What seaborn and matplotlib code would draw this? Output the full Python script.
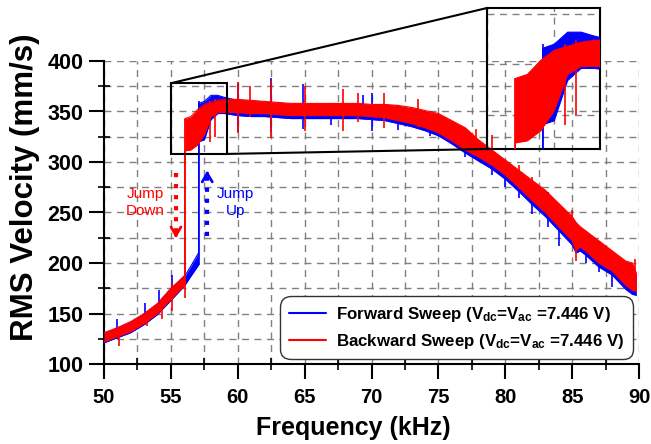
import matplotlib
matplotlib.use('Agg')
import matplotlib.pyplot as plt
import seaborn as sns
import pandas as pd
from matplotlib.patches import Rectangle, ConnectionPatch
from matplotlib.lines import Line2D
from matplotlib.ticker import MultipleLocator

# ---------------- data ----------------
# Backward sweep (red): envelope of the noisy band
red_f = [50, 51, 52, 53, 54, 55, 55.5, 56.05, 56.05, 56.5, 57, 57.5, 58, 58.5, 59,
         60, 61, 62, 63, 64, 65, 66, 67, 68, 69, 70, 71, 72, 73, 74, 75, 76, 77, 78, 79,
         80, 81, 82, 83, 84, 85, 85.3, 85.6, 86, 87, 88, 89, 89.5, 89.8]
red_lo = [122, 127, 132, 140, 150, 164, 171, 178, 311, 312, 317, 327, 345, 349, 349,
          349, 348, 348, 347, 346, 346, 346, 346, 346, 346, 345, 344, 341, 338, 334, 329, 321, 312, 305, 297,
          287, 275, 262, 250, 236, 222, 212, 216, 212, 200, 192, 178, 173, 172]
red_hi = [131, 136, 142, 150, 160, 175, 181, 188, 343, 345, 352, 357, 359, 361, 362,
          362, 361, 360, 359, 358, 358, 358, 358, 358, 358, 357, 357, 356, 354, 351, 348, 341, 334, 322, 312,
          302, 292, 282, 272, 259, 246, 240, 236, 232, 222, 212, 202, 200, 190]
# Forward sweep (blue)
blue_f = [50, 51, 52, 53, 54, 55, 55.5, 56, 56.5, 57.07, 57.07, 57.5, 58, 58.5, 59,
          60, 61, 62, 63, 64, 65, 66, 67, 68, 69, 70, 71, 72, 73, 74, 75, 76, 77, 78, 79,
          80, 81, 82, 83, 84, 85, 85.3, 85.6, 86, 87, 88, 89, 89.5, 89.8]
blue_lo = [121, 126, 131, 139, 149, 163, 170, 177, 187, 198, 320, 322, 342, 348, 348,
           346, 345, 345, 344, 343, 343, 343, 343, 343, 343, 342, 341, 338, 335, 331, 326, 318, 309, 301, 293,
           283, 271, 258, 246, 232, 218, 210, 212, 208, 196, 188, 174, 169, 168]
blue_hi = [130, 135, 141, 149, 159, 174, 180, 186, 197, 210, 358, 360, 366, 366, 364,
           361, 360, 359, 358, 357, 357, 357, 357, 357, 357, 356, 356, 355, 352, 349, 346, 339, 332, 320, 310,
           300, 290, 280, 270, 257, 244, 238, 234, 230, 220, 210, 200, 198, 188]

# Spikes (vertical excursions)
red_spk_f = [51.1, 53.2, 54.3, 55.1, 56.05, 57.9, 58.3, 60.0, 60.9, 62.5, 65.0, 67.9, 69.0,
             70.9, 73.5, 77.8, 79.0, 81.0, 82.0, 83.0, 85.0, 85.3, 88.0, 89.7]
red_spk_lo = [118, 138, 145, 152, 165, 320, 325, 329, 345, 324, 331, 331, 340,
              334, 335, 310, 300, 280, 265, 250, 225, 202, 195, 175]
red_spk_hi = [135, 152, 162, 180, 343, 360, 362, 379, 375, 380, 375, 372, 368,
              368, 362, 333, 327, 297, 285, 272, 252, 240, 212, 204]
blue_spk_f = [51.0, 53.1, 54.1, 55.1, 57.07, 60.0, 62.5, 64.9, 67.0, 69.4, 70.0, 72.0,
              74.4, 76.0, 77.0, 79.0, 80.0, 81.0, 82.0, 83.2, 84.0, 86.0, 87.0, 88.0]
blue_spk_lo = [125, 140, 152, 168, 198, 330, 330, 333, 337, 345, 331, 332,
               326, 319, 305, 287, 275, 264, 249, 236, 217, 200, 191, 176]
blue_spk_hi = [145, 160, 173, 188, 360, 378, 383, 377, 358, 366, 368, 356,
               350, 341, 334, 310, 302, 290, 282, 270, 258, 232, 222, 212]

labels = ["Forward Sweep (V$_{\\mathrm{dc}}$=V$_{\\mathrm{ac}}$ =7.446 V)",
          "Backward Sweep (V$_{\\mathrm{dc}}$=V$_{\\mathrm{ac}}$ =7.446 V)"]
x_ticks = [50, 55, 60, 65, 70, 75, 80, 85, 90]
y_ticks = [100, 150, 200, 250, 300, 350, 400]

# zoom window and annotation anchors
zoom_x = [55, 59.2]
zoom_y = [308, 378]
red_arrow = [55.38, 289, 222]
blue_arrow = [57.72, 227, 294]
down_text = [53.1, 260]
up_text = [59.8, 260]

BLUE = '#0000FF'
RED = '#FF0000'

# ---------------- style ----------------
sns.set_theme(style='ticks')
plt.rcParams['font.family'] = ['Liberation Sans', 'DejaVu Sans']
plt.rcParams['font.weight'] = 'bold'
plt.rcParams['text.color'] = 'black'
plt.rcParams['axes.labelcolor'] = 'black'
plt.rcParams['xtick.color'] = 'black'
plt.rcParams['ytick.color'] = 'black'
plt.rcParams['mathtext.fontset'] = 'custom'
plt.rcParams['mathtext.rm'] = 'Liberation Sans:bold'
plt.rcParams['mathtext.it'] = 'Liberation Sans:bold'
plt.rcParams['mathtext.bf'] = 'Liberation Sans:bold'

fig = plt.figure(figsize=(6.51, 4.44), dpi=100)
ax = fig.add_axes([104/651, 80/444, 535/651, 303/444])

series = [
    (blue_f, blue_lo, blue_hi, blue_spk_f, blue_spk_lo, blue_spk_hi, BLUE),
    (red_f, red_lo, red_hi, red_spk_f, red_spk_lo, red_spk_hi, RED),
]


def draw(a):
    for f, lo, hi, sf, slo, shi, color in series:
        df = pd.DataFrame({'freq': f + f, 'value': lo + hi,
                           'edge': ['lo'] * len(f) + ['hi'] * len(f)})
        sns.lineplot(data=df, x='freq', y='value', units='edge', estimator=None,
                     sort=False, color=color, lw=0.8, ax=a, legend=False, zorder=3)
        a.fill_between(f, lo, hi, color=color, lw=0, zorder=3)
        a.vlines(sf, slo, shi, color=color, lw=1.2, zorder=3)


draw(ax)

ax.set_xlim(50, 90)
ax.set_ylim(100, 400)
ax.set_xticks(x_ticks)
ax.set_yticks(y_ticks)
ax.xaxis.set_minor_locator(MultipleLocator(2.5))
ax.yaxis.set_minor_locator(MultipleLocator(25))
ax.set_xlabel('')
ax.set_ylabel('')
ax.set_axisbelow(True)
ax.grid(True, which='both', color='#808080', ls=(0, (5, 4)), lw=1.0)
for s in ['top', 'right']:
    ax.spines[s].set_visible(False)
for s in ['left', 'bottom']:
    ax.spines[s].set_color('black')
    ax.spines[s].set_linewidth(1.5)
ax.tick_params(which='major', direction='out', length=11, width=1.5, colors='black')
ax.tick_params(axis='x', which='major', pad=6, labelsize=14.5)
ax.tick_params(axis='y', which='major', pad=4, labelsize=15.5)
ax.tick_params(which='minor', direction='inout', length=9, width=1.2, color='black')
for t in ax.get_xticklabels() + ax.get_yticklabels():
    t.set_fontweight('bold')
    t.set_color('black')

fig.text(25/651, 1 - 187/444, 'RMS Velocity (mm/s)', rotation=90, ha='center',
         va='center', fontsize=22.5, fontweight='bold', color='black')
fig.text(353.5/651, 1 - 428/444, 'Frequency (kHz)', ha='center', va='center',
         fontsize=18, fontweight='bold', color='black')

# jump arrows
ax.plot([red_arrow[0]] * 2, [red_arrow[1], red_arrow[2] + 8], ls=':', lw=3, color=RED, zorder=4)
ax.annotate('', xy=(red_arrow[0], red_arrow[2]), xytext=(red_arrow[0], red_arrow[2] + 10),
            arrowprops=dict(arrowstyle='->,head_length=0.5,head_width=0.3', lw=2, color=RED))
ax.plot([blue_arrow[0]] * 2, [blue_arrow[1], blue_arrow[2] - 8], ls=':', lw=3, color=BLUE, zorder=4)
ax.annotate('', xy=(blue_arrow[0], blue_arrow[2]), xytext=(blue_arrow[0], blue_arrow[2] - 10),
            arrowprops=dict(arrowstyle='->,head_length=0.5,head_width=0.3', lw=2, color=BLUE))
ax.text(down_text[0], down_text[1], 'Jump\nDown', color=RED, fontsize=11, fontweight='normal',
        ha='center', va='center', linespacing=1.3)
ax.text(up_text[0], up_text[1], 'Jump\nUp', color=BLUE, fontsize=11, fontweight='normal',
        ha='center', va='center', linespacing=1.3)

# legend
handles = [Line2D([0], [0], color=BLUE, lw=1.5), Line2D([0], [0], color=RED, lw=1.5)]
leg = ax.legend(handles, labels, loc='lower right', bbox_to_anchor=(633/651, 85/444),
                bbox_transform=fig.transFigure, borderaxespad=0, fontsize=12.2,
                frameon=True, fancybox=True, framealpha=1, edgecolor='#333333',
                handlelength=2.2, labelspacing=0.45, borderpad=0.5, handletextpad=0.6)
leg.get_frame().set_linewidth(1.0)
leg.get_frame().set_boxstyle('round', pad=0, rounding_size=0.6)
for t in leg.get_texts():
    t.set_fontweight('bold')
    t.set_color('black')

# zoom rectangle + inset
ax.add_patch(Rectangle((zoom_x[0], zoom_y[0]), zoom_x[1] - zoom_x[0], zoom_y[1] - zoom_y[0],
                       fill=False, ec='black', lw=1.5, zorder=6))
axin = fig.add_axes([487/651, (444 - 149)/444, 113/651, 141/444])
axin.set_facecolor('none')
draw(axin)
axin.set_xlim(zoom_x)
axin.set_ylim(zoom_y)
axin.set_xticks([55, 57.5])
axin.set_yticks([325, 350, 375])
axin.set_xlabel('')
axin.set_ylabel('')
axin.tick_params(length=0, labelbottom=False, labelleft=False)
axin.set_axisbelow(True)
axin.grid(True, color='#808080', ls=(0, (5, 4)), lw=1.0)
for s in axin.spines.values():
    s.set_visible(True)
    s.set_color('black')
    s.set_linewidth(1.5)

for xyA, xyB in [((zoom_x[0], zoom_y[1]), (0, 1)), ((zoom_x[1], zoom_y[0]), (0, 0))]:
    cp = ConnectionPatch(xyA=xyA, coordsA=ax.transData, xyB=xyB, coordsB=axin.transAxes,
                         color='black', lw=1.5)
    fig.add_artist(cp)

fig.savefig('out.png', dpi=100)
